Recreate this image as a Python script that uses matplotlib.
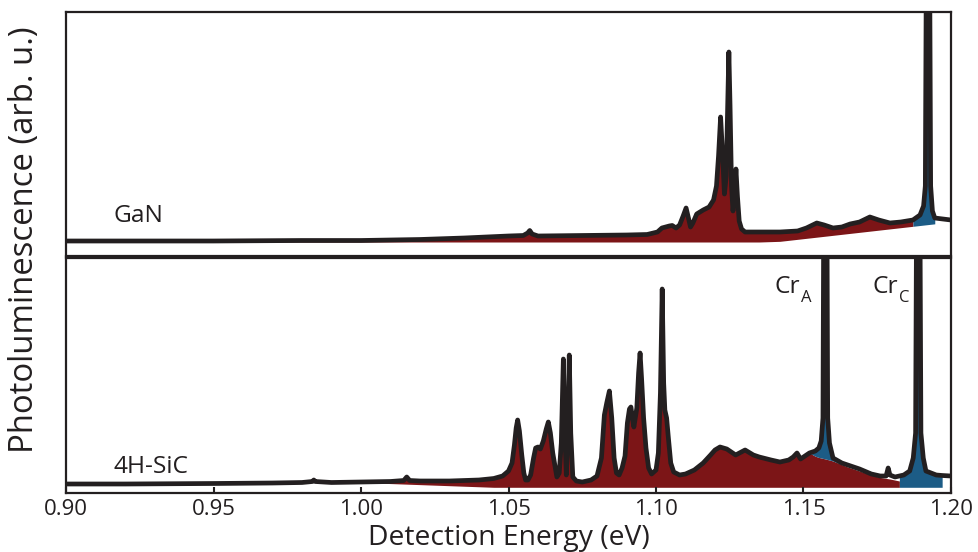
import numpy as np
import matplotlib
matplotlib.use("Agg")
import matplotlib.pyplot as plt

plt.rcParams['font.family'] = ['Open Sans', 'DejaVu Sans']

# ---------------- data ----------------
gan_energy = [0.900, 0.920, 0.950, 0.980, 1.000, 1.020, 1.035, 1.050, 1.055, 1.0565,
              1.0572, 1.0580, 1.060, 1.075, 1.090, 1.097, 1.1005, 1.102, 1.1045, 1.1055,
              1.1068, 1.108, 1.1092, 1.1102, 1.1110, 1.1117, 1.1125, 1.1138, 1.1160, 1.1180,
              1.1195, 1.1205, 1.1212, 1.1219, 1.1226, 1.1232, 1.1238, 1.1243, 1.1247, 1.1251,
              1.1256, 1.1261, 1.1266, 1.1271, 1.1276, 1.1282, 1.1290, 1.1302, 1.135, 1.142,
              1.148, 1.151, 1.1545, 1.157, 1.160, 1.163, 1.1658, 1.169, 1.1725, 1.1755,
              1.1793, 1.183, 1.1871, 1.1895, 1.1907, 1.1913, 1.1918, 1.1926, 1.1931, 1.1937,
              1.1945, 1.2000]
gan_intensity = [15, 15, 15, 15.5, 15.5, 16.5, 18, 20, 20.5, 23,
                 25.5, 22, 20, 20.5, 21, 21.5, 24, 28, 30, 30.5,
                 28, 31, 40, 48, 38, 29, 33, 42, 46, 49,
                 56, 70, 100, 139, 100, 62, 80, 150, 204, 150,
                 70, 45, 60, 87, 60, 35, 27, 24, 24, 24,
                 25, 28, 33, 31, 28, 29, 32, 34, 39, 36,
                 33, 34, 36, 41, 50, 70, 400, 400, 70, 45,
                 38, 36]
gan_bg_energy = [0.900, 1.140, 1.200]
gan_bg_intensity = [14, 14, 34]

sic_energy = [0.900, 0.920, 0.950, 0.970, 0.980, 0.9835, 0.9840, 0.9845, 0.990, 1.000,
              1.010, 1.0145, 1.0155, 1.0165, 1.020, 1.030, 1.040, 1.045, 1.048, 1.050,
              1.0512, 1.0520, 1.0526, 1.0531, 1.0537, 1.0545, 1.0552, 1.0558, 1.0566, 1.0575,
              1.0585, 1.0592, 1.0600, 1.0608, 1.0618, 1.0628, 1.0635, 1.0642, 1.0650, 1.0657,
              1.0664, 1.0672, 1.0679, 1.0686, 1.0691, 1.0696, 1.0701, 1.0706, 1.0711, 1.0718,
              1.0730, 1.0750, 1.0780, 1.0800, 1.0815, 1.0825, 1.0833, 1.0842, 1.0850, 1.0858,
              1.0866, 1.0875, 1.0885, 1.0895, 1.0903, 1.0910, 1.0915, 1.0920, 1.0925, 1.0935,
              1.0941, 1.0946, 1.0951, 1.0958, 1.0966, 1.0975, 1.0985, 1.1000, 1.1008, 1.1015,
              1.1021, 1.1026, 1.1030, 1.1036, 1.1042, 1.1050, 1.1060, 1.1080, 1.1100, 1.1130,
              1.1160, 1.1185, 1.1200, 1.1217, 1.1240, 1.1270, 1.1302, 1.1330, 1.1350, 1.1390,
              1.1420, 1.1450, 1.1465, 1.1478, 1.1490, 1.1505, 1.1520, 1.1540, 1.1552, 1.1560,
              1.1566, 1.1570, 1.1578, 1.1582, 1.1588, 1.1600, 1.1630, 1.1650, 1.1690, 1.1730,
              1.1760, 1.1780, 1.1787, 1.1793, 1.1810, 1.1825, 1.1840, 1.1860, 1.1872, 1.1880,
              1.1885, 1.1893, 1.1898, 1.1906, 1.1915, 1.1950, 1.1970, 1.2000]
sic_intensity = [9, 9, 9.5, 10, 10.5, 11.5, 13, 11.5, 10.5, 11,
                 11.5, 12.5, 16, 12.5, 12, 12, 13, 14.5, 17, 22,
                 30, 48, 65, 73, 62, 38, 20, 13, 13, 18,
                 35, 45, 46, 44, 52, 64, 71, 60, 40, 28,
                 16, 20, 50, 134, 60, 18, 60, 138, 60, 16,
                 12, 11, 13, 17, 35, 78, 90, 102, 75, 35,
                 20, 18, 25, 37, 70, 84, 86, 75, 66, 85,
                 120, 140, 115, 75, 45, 25, 19, 23, 40, 100,
                 204, 110, 83, 75, 55, 30, 21, 18, 19, 23,
                 30, 38, 43, 46, 44, 38, 43, 38, 36, 33,
                 31, 33, 36, 40, 34, 37, 40, 42, 45, 52,
                 75, 400, 400, 75, 50, 35, 30, 28, 24, 19,
                 17, 17, 25, 18, 16, 17, 18, 22, 35, 60,
                 400, 400, 60, 35, 22, 18, 17.5, 17]
sic_bg_energy = [1.1520, 1.1545, 1.1575, 1.1600, 1.1650, 1.1700, 1.1750, 1.1793, 1.1825]
sic_bg_intensity = [40, 36, 34, 32, 26, 21, 16, 14, 12]
sic_base_energy = [1.000, 1.045, 1.200]
sic_base_intensity = [10.5, 5.7, 5.7]

tick_values = [0.90, 0.95, 1.00, 1.05, 1.10, 1.15, 1.20]
tick_labels = ['0.90', '0.95', '1.00', '1.05', '1.10', '1.15', '1.20']

# ---------------- style ----------------
RED = '#7c1517'
BLUE = '#1c5c86'
INK = '#231f20'
LW = 3.4

W, H = 979, 552
fig = plt.figure(figsize=(W / 100, H / 100), dpi=100)


def fx(px):
    return px / W


def fy(py):
    return 1 - py / H


ax1 = fig.add_axes([fx(66), fy(256), fx(951) - fx(66), fy(12) - fy(256)])
ax2 = fig.add_axes([fx(66), fy(493), fx(951) - fx(66), fy(258) - fy(493)])

# ---- top panel (GaN) ----
gx = np.array(gan_energy)
gy = np.array(gan_intensity, dtype=float)
gbg = np.interp(gx, gan_bg_energy, gan_bg_intensity)
ax1.fill_between(gx, gbg, gy, where=gx <= 1.1871, color=RED, lw=0, zorder=1)
ax1.fill_between(gx, gbg, gy, where=(gx >= 1.1871) & (gx <= 1.1945), color=BLUE, lw=0, zorder=1)
ax1.plot(gx, gy, color=INK, lw=LW, solid_joinstyle='round', solid_capstyle='round', zorder=3)
ax1.set_ylim(0, 244)

# ---- bottom panel (4H-SiC) ----
sx = np.array(sic_energy)
sy = np.array(sic_intensity, dtype=float)
base = np.interp(sx, sic_base_energy, sic_base_intensity)
bg_on = np.where(sx < sic_bg_energy[0], sy, np.interp(sx, sic_bg_energy, sic_bg_intensity))
red_top = np.minimum(sy, bg_on)
ax2.fill_between(sx, base, red_top, where=(sx >= 1.0) & (sx <= 1.1825),
                 color=RED, lw=0, zorder=1)
ax2.fill_between(sx, red_top, sy, where=(sx >= 1.152) & (sx <= 1.163),
                 color=BLUE, lw=0, zorder=1)
ax2.fill_between(sx, base, sy, where=(sx >= 1.1825) & (sx <= 1.197),
                 color=BLUE, lw=0, zorder=1)
ax2.plot(sx, sy, color=INK, lw=LW, solid_joinstyle='round', solid_capstyle='round', zorder=3)
ax2.set_ylim(0, 235)

for ax in (ax1, ax2):
    ax.set_xlim(0.90, 1.20)
    ax.set_yticks([])
    for sp in ax.spines.values():
        sp.set_linewidth(1.6)
        sp.set_color(INK)
        sp.set_zorder(5)

ax1.set_xticks([])
ax2.set_xticks(tick_values)
ax2.set_xticklabels(tick_labels)
ax2.tick_params(axis='x', direction='in', length=4.5, width=1.5, color=INK,
                labelcolor=INK, labelsize=15, pad=4)

# ---- texts ----
t_gan = fig.text(fx(114), fy(222), 'GaN', ha='left', va='baseline', fontsize=15, color=INK)
t_sic = fig.text(fx(114), fy(473), '4H-SiC', ha='left', va='baseline', fontsize=15, color=INK)
t_cra = fig.text(fx(775), fy(293), 'Cr', ha='left', va='baseline', fontsize=15, color=INK)
t_crc = fig.text(fx(873), fy(293), 'Cr', ha='left', va='baseline', fontsize=15, color=INK)
t_xl = fig.text(fx(509), fy(538), 'Detection Energy (eV)', ha='center', va='center',
                fontsize=19, color=INK)
t_yl = fig.text(fx(25), fy(240), 'Photoluminescence (arb. u.)', ha='center', va='center',
                rotation=90, fontsize=19, color=INK)

fig.canvas.draw()
r = fig.canvas.get_renderer()


def fit(t, target, dim='w'):
    for _ in range(3):
        bb = t.get_window_extent(renderer=r)
        cur = bb.width if dim == 'w' else bb.height
        t.set_fontsize(t.get_fontsize() * target / cur)


fit(t_xl, 282, 'w')
fit(t_yl, 425, 'h')
fit(t_sic, 75, 'w')
s = t_sic.get_fontsize()
for t in (t_gan, t_cra, t_crc):
    t.set_fontsize(s)

# subscripts placed right after the measured "Cr"
fig.canvas.draw()
for t, sub in ((t_cra, 'A'), (t_crc, 'C')):
    bb = t.get_window_extent(renderer=r)
    fig.text((bb.x1 + 0.5) / W, fy(302.5), sub, ha='left', va='baseline',
             fontsize=s * 0.68, color=INK)

# fit tick labels
for _ in range(3):
    fig.canvas.draw()
    lab = ax2.get_xticklabels()[0]
    bb = lab.get_window_extent(renderer=r)
    cur = lab.get_fontsize()
    ax2.tick_params(axis='x', labelsize=cur * 44 / bb.width)

fig.savefig('out.png', dpi=100)
